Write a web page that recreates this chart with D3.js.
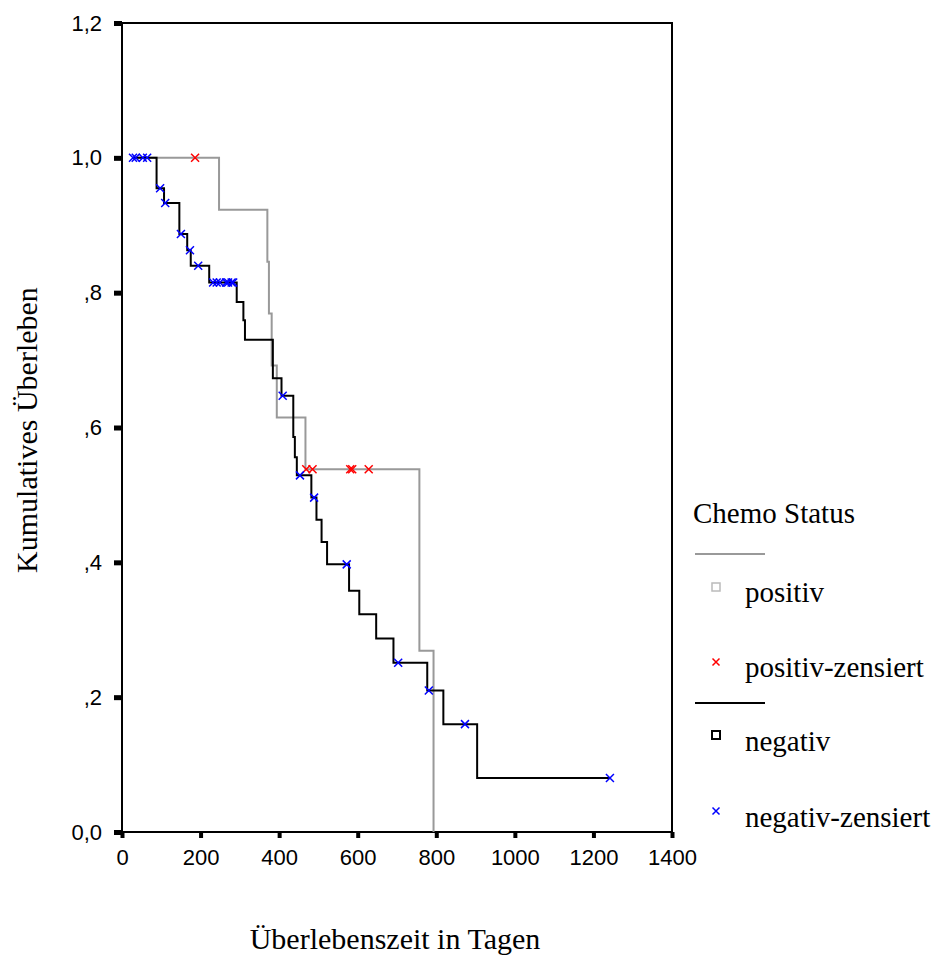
<!DOCTYPE html>
<html>
<head>
<meta charset="utf-8">
<script src="https://cdn.jsdelivr.net/npm/d3@7"></script>
<style>
  body { margin: 0; background: #fff; }
</style>
</head>
<body>
<div id="chart"></div>
<script>
// Kaplan-Meier plot: Kumulatives Überleben by Chemo Status

// positiv group: time of each step (days) and survival after it
const posTimes = [28, 247, 370, 374, 381, 394, 467, 757, 793];
const posSurv = [1.0, 0.923, 0.846, 0.769, 0.692, 0.615, 0.538, 0.269, 0.0];
const posCensored = [186, 469, 485, 581, 586, 628];

// negativ group
const negTimes = [28, 88, 107, 146, 166, 175, 222, 292, 309, 313, 384, 406, 436, 440, 445,
                  482, 495, 508, 522, 578, 604, 647, 691, 777, 818, 904];
const negSurv = [1.0, 0.955, 0.933, 0.887, 0.863, 0.840, 0.815, 0.786, 0.759, 0.730, 0.673, 0.647,
                 0.586, 0.556, 0.529, 0.496, 0.463, 0.430, 0.397, 0.358, 0.323, 0.287, 0.251,
                 0.210, 0.160, 0.080];
const negEnd = 1242;
const negCensored = [28, 35, 53, 64, 97, 110, 150, 173, 194, 232, 241, 249, 265, 270, 279, 283,
                     409, 453, 489, 572, 703, 781, 873, 1242];

const xTicks = [0, 200, 400, 600, 800, 1000, 1200, 1400];
const yTicks = [0, 0.2, 0.4, 0.6, 0.8, 1.0, 1.2];
const yTickLabels = ["0,0", ",2", ",4", ",6", ",8", "1,0", "1,2"];
const legendTitle = "Chemo Status";
const legendLabels = ["positiv", "positiv-zensiert", "negativ", "negativ-zensiert"];

var width = 936;
var height = 958;
var serif = "'Liberation Serif', 'Times New Roman', serif";
var sans = "'Liberation Sans', Arial, sans-serif";

var svg = d3.select('#chart')
    .append('svg')
    .attr('width', width)
    .attr('height', height)
    .style('background', '#fff');

var x = d3.scaleLinear().domain([0, 1400]).range([122, 672]);
var y = d3.scaleLinear().domain([0, 1.2]).range([832, 23]);

// survival level of a step function at time t
function levelAt(times, surv, t) {
    var i = d3.bisectRight(times, t) - 1;
    return surv[Math.max(i, 0)];
}

// frame
svg.append('rect')
    .attr('x', x(0))
    .attr('y', y(1.2))
    .attr('width', x(1400) - x(0))
    .attr('height', y(0) - y(1.2))
    .attr('fill', 'none')
    .attr('stroke', '#000')
    .attr('stroke-width', 2);

// axes
var yAxis = svg.append('g')
    .attr('transform', 'translate(' + x(0) + ',0)')
    .call(d3.axisLeft(y)
        .tickValues(yTicks)
        .tickFormat(function (d, i) { return yTickLabels[i]; })
        .tickSize(8)
        .tickPadding(12));
yAxis.select('.domain').remove();
yAxis.selectAll('.tick line').attr('stroke', '#000').attr('stroke-width', 5);
yAxis.selectAll('.tick text')
    .attr('fill', '#000')
    .style('font-family', sans)
    .style('font-size', '22px');

var xAxis = svg.append('g')
    .attr('transform', 'translate(0,' + y(0) + ')')
    .call(d3.axisBottom(x)
        .tickValues(xTicks)
        .tickFormat(d3.format('d'))
        .tickSize(6)
        .tickPadding(11));
xAxis.select('.domain').remove();
xAxis.selectAll('.tick line').attr('stroke', '#000').attr('stroke-width', 4);
xAxis.selectAll('.tick text')
    .attr('fill', '#000')
    .style('font-family', sans)
    .style('font-size', '22px');

// axis titles
svg.append('text')
    .attr('transform', 'translate(37,430) rotate(-90)')
    .attr('text-anchor', 'middle')
    .style('font-family', serif)
    .style('font-size', '30px')
    .text('Kumulatives Überleben');

svg.append('text')
    .attr('x', 395)
    .attr('y', 949)
    .attr('text-anchor', 'middle')
    .style('font-family', serif)
    .style('font-size', '30px')
    .text('Überlebenszeit in Tagen');

// step curves
var stepLine = d3.line()
    .x(function (d) { return x(d[0]); })
    .y(function (d) { return y(d[1]); })
    .curve(d3.curveStepAfter);

var posPoints = posTimes.map(function (t, i) { return [t, posSurv[i]]; });
var negPoints = negTimes.map(function (t, i) { return [t, negSurv[i]]; });
negPoints.push([negEnd, negSurv[negSurv.length - 1]]);

svg.append('path')
    .datum(posPoints)
    .attr('d', stepLine)
    .attr('fill', 'none')
    .attr('stroke', '#999')
    .attr('stroke-width', 2);

svg.append('path')
    .datum(negPoints)
    .attr('d', stepLine)
    .attr('fill', 'none')
    .attr('stroke', '#000')
    .attr('stroke-width', 2);

// censored marks
var cross = 'M-4,-4L4,4M-4,4L4,-4';

svg.selectAll('.pos-cens')
    .data(posCensored)
    .enter()
    .append('path')
    .attr('class', 'pos-cens')
    .attr('d', cross)
    .attr('transform', function (d) {
        return 'translate(' + x(d) + ',' + y(levelAt(posTimes, posSurv, d)) + ')';
    })
    .attr('stroke', '#ff0000')
    .attr('stroke-width', 1.5);

svg.selectAll('.neg-cens')
    .data(negCensored)
    .enter()
    .append('path')
    .attr('class', 'neg-cens')
    .attr('d', cross)
    .attr('transform', function (d) {
        return 'translate(' + x(d) + ',' + y(levelAt(negTimes, negSurv, d)) + ')';
    })
    .attr('stroke', '#0000ff')
    .attr('stroke-width', 1.5);

// legend
var legend = svg.append('g');

legend.append('text')
    .attr('x', 693)
    .attr('y', 523)
    .style('font-family', serif)
    .style('font-size', '29px')
    .text(legendTitle);

legend.append('line')
    .attr('x1', 695).attr('x2', 765)
    .attr('y1', 554).attr('y2', 554)
    .attr('stroke', '#999')
    .attr('stroke-width', 2);

legend.append('line')
    .attr('x1', 695).attr('x2', 765)
    .attr('y1', 703).attr('y2', 703)
    .attr('stroke', '#000')
    .attr('stroke-width', 2);

var markerY = [587, 662, 735, 811];
var textY = [602, 677, 751, 827];

legend.append('rect')
    .attr('x', 712).attr('y', markerY[0] - 4)
    .attr('width', 8).attr('height', 8)
    .attr('fill', 'none')
    .attr('stroke', '#bbb')
    .attr('stroke-width', 1.5);

legend.append('path')
    .attr('d', 'M-3.5,-3.5L3.5,3.5M-3.5,3.5L3.5,-3.5')
    .attr('transform', 'translate(716,' + markerY[1] + ')')
    .attr('stroke', '#ff0000')
    .attr('stroke-width', 1.5);

legend.append('rect')
    .attr('x', 712).attr('y', markerY[2] - 4)
    .attr('width', 8).attr('height', 8)
    .attr('fill', 'none')
    .attr('stroke', '#000')
    .attr('stroke-width', 2);

legend.append('path')
    .attr('d', 'M-3.5,-3.5L3.5,3.5M-3.5,3.5L3.5,-3.5')
    .attr('transform', 'translate(716,' + markerY[3] + ')')
    .attr('stroke', '#0000ff')
    .attr('stroke-width', 1.5);

legend.selectAll('.leg-label')
    .data(legendLabels)
    .enter()
    .append('text')
    .attr('class', 'leg-label')
    .attr('x', 745)
    .attr('y', function (d, i) { return textY[i]; })
    .style('font-family', serif)
    .style('font-size', '29px')
    .text(function (d) { return d; });
</script>
</body>
</html>
